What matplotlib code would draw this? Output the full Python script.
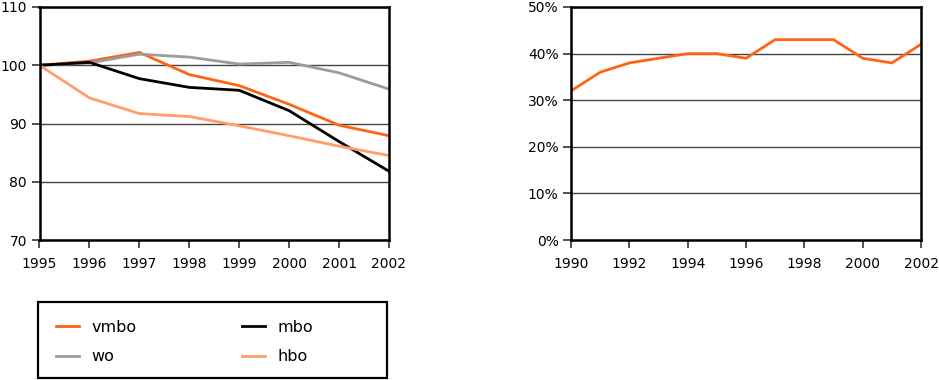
import matplotlib
matplotlib.use("Agg")
import matplotlib.pyplot as plt
from matplotlib.ticker import FuncFormatter
from matplotlib.patches import Rectangle

plt.rcParams['font.family'] = ['DejaVu Sans']

years_left = [1995, 1996, 1997, 1998, 1999, 2000, 2001, 2002]
vmbo = [100, 100.7, 102.2, 98.4, 96.5, 93.3, 89.7, 87.9]
mbo = [100, 100.5, 97.7, 96.2, 95.7, 92.2, 86.9, 81.8]
wo = [100, 100.4, 101.9, 101.4, 100.2, 100.5, 98.7, 95.9]
hbo = [100, 94.4, 91.7, 91.2, 89.6, 87.9, 86.1, 84.5]

years_right = list(range(1990, 2003))
share = [32, 36, 38, 39, 40, 40, 39, 43, 43, 43, 39, 38, 42]

C_VMBO = '#ff6414'
C_MBO = '#000000'
C_WO = '#9b9b9b'
C_HBO = '#ff9e68'

W, H = 939, 380
fig = plt.figure(figsize=(W/100, H/100), dpi=100)

def px_axes(x0, y0, x1, y1):
    return fig.add_axes([x0/W, 1 - y1/H, (x1-x0)/W, (y1-y0)/H])

def style(ax):
    for s in ax.spines.values():
        s.set_linewidth(1.8)
        s.set_color('black')
    ax.tick_params(axis='both', direction='out', length=6, width=1.2,
                   labelsize=10, color='#333333')
    ax.tick_params(axis='x', pad=6.5)
    ax.tick_params(axis='y', pad=3)
    ax.grid(axis='y', color='#444444', linewidth=1.0)
    ax.set_axisbelow(True)

ax1 = px_axes(39.5, 7, 389, 240)
lw = 2.0
l1, = ax1.plot(years_left, vmbo, color=C_VMBO, lw=lw, label='vmbo')
l3, = ax1.plot(years_left, wo, color=C_WO, lw=lw, label='wo')
l2, = ax1.plot(years_left, mbo, color=C_MBO, lw=lw, label='mbo')
l4, = ax1.plot(years_left, hbo, color=C_HBO, lw=lw, label='hbo')
ax1.set_xlim(1995, 2002)
ax1.set_ylim(70, 110)
ax1.set_xticks(years_left)
ax1.set_yticks([70, 80, 90, 100, 110])
style(ax1)

ax2 = px_axes(571, 7, 921, 240)
ax2.plot(years_right, share, color=C_VMBO, lw=lw)
ax2.set_xlim(1990, 2002)
ax2.set_ylim(0, 50)
ax2.set_xticks(list(range(1990, 2003, 2)))
ax2.set_yticks([0, 10, 20, 30, 40, 50])
ax2.yaxis.set_major_formatter(FuncFormatter(lambda v, p: f"{int(v)}%"))
style(ax2)

# legend frame
fig.patches.append(Rectangle((38/W, 1 - 378/H), (387-38)/W, (378-302)/H,
                             transform=fig.transFigure, fill=False,
                             edgecolor='black', linewidth=1.6))

leg = fig.legend(handles=[l1, l3, l2, l4], labels=['vmbo', 'wo', 'mbo', 'hbo'],
                 ncol=2, loc='upper left',
                 bbox_to_anchor=(56/W, 1 - 320/H),
                 frameon=False, fontsize=11.5, handlelength=1.44,
                 handletextpad=0.78, borderpad=0, labelspacing=0.9,
                 columnspacing=6.6, borderaxespad=0)

fig.savefig('out.png', dpi=100)
